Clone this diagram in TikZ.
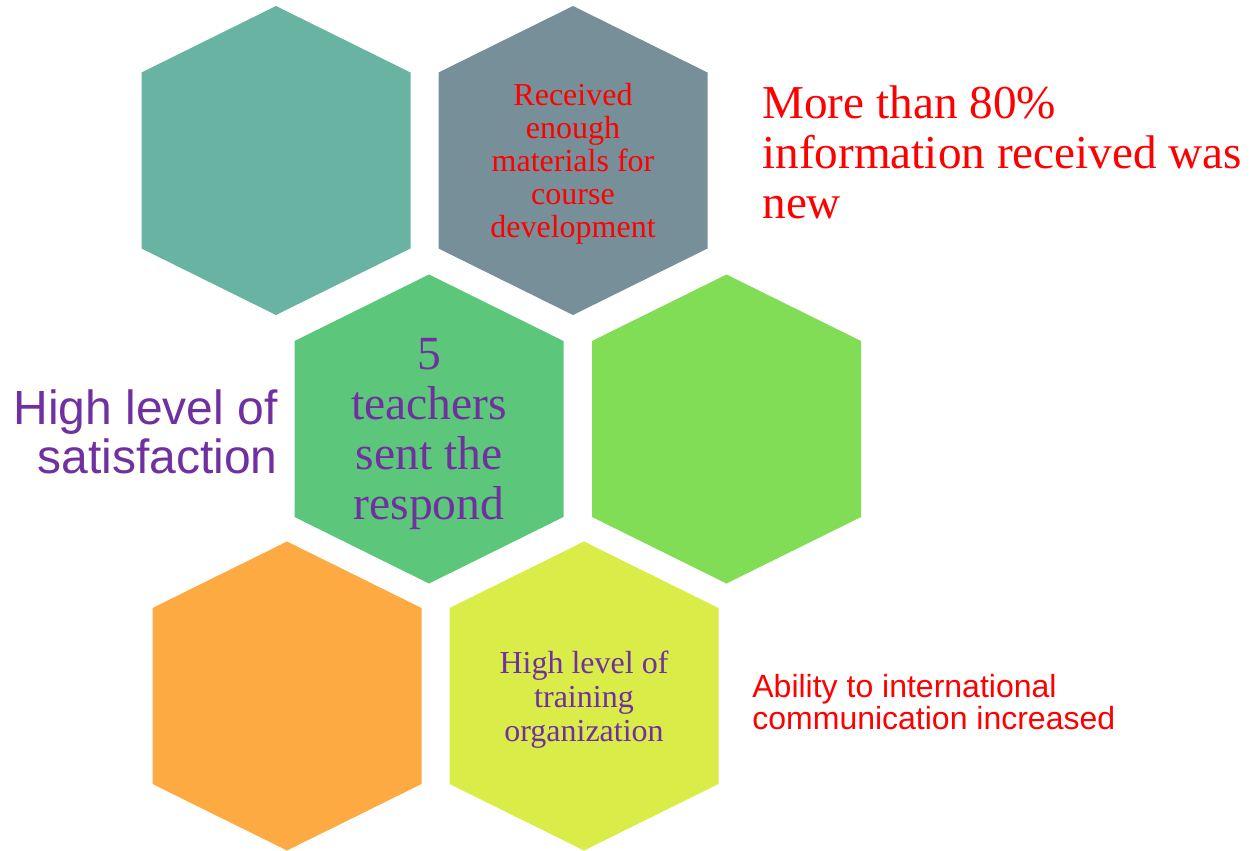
\documentclass[tikz,border=0pt]{standalone}
\usepackage{fontspec}
\setmainfont{Liberation Serif}
\setsansfont{Liberation Sans}

\definecolor{hexteal}{HTML}{69B3A3}
\definecolor{hexslate}{HTML}{778F99}
\definecolor{hexgreen}{HTML}{5CC77A}
\definecolor{hexlime}{HTML}{80DD55}
\definecolor{hexorange}{HTML}{FEAA42}
\definecolor{hexyellow}{HTML}{DAEC48}
\definecolor{txtpurple}{HTML}{7030A0}
\definecolor{txtred}{HTML}{FF0000}

% hexagon around a named centre
\newcommand{\hexcell}[2]{\fill[#1] (#2) ++(0,-154.5) -- ++(134.5,66.5) -- ++(0,176) -- ++(-134.5,66.5) -- ++(-134.5,-66.5) -- ++(0,-176) -- cycle;}

\tikzset{
  celltext/.style={align=center, inner sep=0pt},
}

\begin{document}
\begin{tikzpicture}[x=0.5pt,y=-0.5pt]
\useasboundingbox (0,0) rectangle (1255,851);
% centres, row by row
\coordinate (c1) at (276,160.5);
\coordinate (c2) at (573,160.5);
\coordinate (c3) at (429,429);
\coordinate (c4) at (726.5,429);
\coordinate (c5) at (287,696);
\coordinate (c6) at (584,696);

\hexcell{hexteal}{c1}
\hexcell{hexslate}{c2}
\hexcell{hexgreen}{c3}
\hexcell{hexlime}{c4}
\hexcell{hexorange}{c5}
\hexcell{hexyellow}{c6}

\node[celltext, text=txtred, font=\fontsize{16}{16.5}\selectfont] (materials) at ([yshift=-3*0.5pt]c2) {Received\\enough\\materials for\\course\\development};
\node[celltext, text=txtpurple, font=\fontsize{23.8}{25}\selectfont] (teachers) at ([yshift=-5*0.5pt]c3) {5\\teachers\\sent the\\respond};
\node[celltext, text=txtpurple, font=\fontsize{16}{17}\selectfont] (training) at ([yshift=-4*0.5pt]c6) {High level of\\training\\organization};

\node[celltext, align=right, anchor=east, text=txtpurple, font=\sffamily\fontsize{24}{24.5}\selectfont] (satisfaction) at (278,432) {High level of\\satisfaction};
\node[celltext, align=left, anchor=west, text=txtred, font=\fontsize{23.6}{25}\selectfont] (newinfo) at (762,152) {More than 80\%\\information received was\\new};
\node[celltext, align=left, anchor=west, text=txtred, font=\sffamily\fontsize{16}{16}\selectfont] (ability) at (752,702) {Ability to international\\communication increased};
\end{tikzpicture}
\end{document}
